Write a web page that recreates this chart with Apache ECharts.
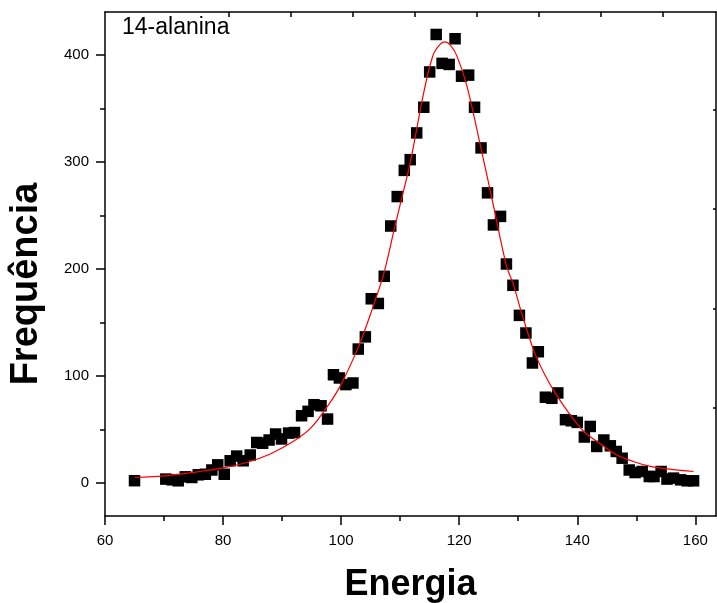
<!DOCTYPE html>
<html>
<head>
<meta charset="utf-8">
<script src="https://cdn.jsdelivr.net/npm/echarts@6/dist/echarts.min.js"></script>
<style>
html,body{margin:0;padding:0;background:#fff;}
#chart{width:717px;height:603px;}
</style>
</head>
<body>
<div id="chart"></div>
<script>
// Measured points (Energia, Frequência)
const energia = [65.0,70.3,71.4,72.4,73.6,74.7,75.8,77.0,78.1,79.1,80.2,81.2,82.3,83.4,84.6,85.7,86.7,87.8,88.9,89.9,91.1,92.1,93.3,94.4,95.4,96.6,97.7,
  98.7,99.7,100.8,102.0,102.9,104.1,105.1,106.3,107.3,108.4,109.5,110.7,111.7,112.8,114.0,115.0,116.1,117.1,118.3,119.3,120.4,121.6,122.6,123.7,124.8,125.8,127.0,
  128.0,129.1,130.2,131.3,132.4,133.4,134.6,135.7,136.7,138.0,139.0,140.0,141.2,142.2,143.3,144.5,145.6,146.6,147.6,148.8,149.8,151.0,152.2,153.0,154.2,155.2,156.3,157.5,158.6,159.7];
const frequencia = [2,3.5,2.8,1.9,5.6,5,7.5,8,12,16.8,8,20.6,25,20.6,26,37.7,37,40,45.6,41,46.5,47,62.7,66.8,73,72,59.6,
  101,98,91.8,93.3,125,136.4,172,167.6,193,240,267.5,292,302,327,351,384,419,392,391,415,380,381,351,313,271,241,249,
  204.5,184.6,156.5,140,112,122.5,80,79,84,59,58,56.5,42.8,52.7,34,40,34.6,29.3,23,12,9.6,10.6,5.9,5.9,10.6,3.5,4.4,2.8,1.9,1.9];

// Fitted curve (red)
const ajusteX = [65,70,76,80,84,88,92,95,98,100,103,105,107.2,109,110,111.7,114,115.6,116.8,117.6,118.5,119.6,121.3,123.6,125.8,128,129.2,130.5,132.6,134.5,136.6,139,141.1,144,146.7,150,152.4,156,159.7];
const ajusteY = [5,6.5,10.6,14,19,27,39,52,74,92,128,158,195,237,260,299,365,400,410,412,409,399,371,315,259,203,185,160,124,101,81,62,48,36,26,19,15.3,12.5,10.6];

// Axis ticks
const xTickLabels = [60,80,100,120,140,160];
const xMinorTicks = [70,90,110,130,150];
const yTickLabels = [0,100,200,300,400];
const yMinorTicks = [50,150,250,350];
const topTicks = [80.93,91.43,101.93,112.44,122.94,133.45,143.95,154.46];
const rightTicks = [70,163,256.5,349];

const FONT = '"Liberation Sans", Arial, sans-serif';
const X_MIN = 60, X_MAX = 163.5, Y_MIN = -31, Y_MAX = 440;
const black = {color:'#000', width:1.5};

const chart = echarts.init(document.getElementById('chart'), null, {renderer:'canvas'});
chart.setOption({
  animation:false,
  backgroundColor:'#fff',
  grid:{left:105, right:1, top:12, bottom:87, containLabel:false, outerBoundsMode:'none'},
  graphic:[{type:'text', left:122, top:16, style:{text:'14-alanina', font:'23px ' + FONT, fill:'#000'}}],
  xAxis:[
    {type:'value', position:'bottom', min:X_MIN, max:X_MAX,
     axisLine:{show:true, onZero:false, lineStyle:black},
     axisTick:{show:true, inside:false, length:9, customValues:xTickLabels, lineStyle:black},
     axisLabel:{show:true, customValues:xTickLabels, color:'#000', fontSize:15, fontFamily:FONT, margin:17},
     splitLine:{show:false},
     name:'Energia', nameLocation:'middle', nameGap:51,
     nameTextStyle:{fontSize:36, fontWeight:'bold', fontFamily:FONT, color:'#000'}},
    {type:'value', position:'bottom', min:X_MIN, max:X_MAX,
     axisLine:{show:false, onZero:false},
     axisTick:{show:true, inside:false, length:5, customValues:xMinorTicks, lineStyle:black},
     axisLabel:{show:false}, splitLine:{show:false}},
    {type:'value', position:'top', min:X_MIN, max:X_MAX,
     axisLine:{show:true, onZero:false, lineStyle:black},
     axisTick:{show:true, inside:true, length:5, customValues:topTicks, lineStyle:black},
     axisLabel:{show:false}, splitLine:{show:false}}
  ],
  yAxis:[
    {type:'value', position:'left', min:Y_MIN, max:Y_MAX,
     axisLine:{show:true, onZero:false, lineStyle:black},
     axisTick:{show:true, inside:false, length:9, customValues:yTickLabels, lineStyle:black},
     axisLabel:{show:true, customValues:yTickLabels, color:'#000', fontSize:15, fontFamily:FONT, margin:16},
     splitLine:{show:false},
     name:'Frequência', nameLocation:'middle', nameGap:59, nameRotate:90,
     nameTextStyle:{fontSize:38, fontWeight:'bold', fontFamily:FONT, color:'#000', padding:[0,40,0,0]}},
    {type:'value', position:'left', min:Y_MIN, max:Y_MAX,
     axisLine:{show:false, onZero:false},
     axisTick:{show:true, inside:false, length:5, customValues:yMinorTicks, lineStyle:black},
     axisLabel:{show:false}, splitLine:{show:false}},
    {type:'value', position:'right', min:Y_MIN, max:Y_MAX,
     axisLine:{show:true, onZero:false, lineStyle:black},
     axisTick:{show:true, inside:true, length:3, customValues:rightTicks, lineStyle:black},
     axisLabel:{show:false}, splitLine:{show:false}}
  ],
  series:[
    {type:'scatter', xAxisIndex:0, yAxisIndex:0, symbol:'rect', symbolSize:11.5,
     itemStyle:{color:'#000', opacity:1},
     data: energia.map((x,i)=>[x, frequencia[i]]), z:2},
    {type:'line', xAxisIndex:0, yAxisIndex:0, showSymbol:false, smooth:0.3,
     lineStyle:{color:'#ff0000', width:1.2},
     data: ajusteX.map((x,i)=>[x, ajusteY[i]]), z:3}
  ]
});
</script>
</body>
</html>
